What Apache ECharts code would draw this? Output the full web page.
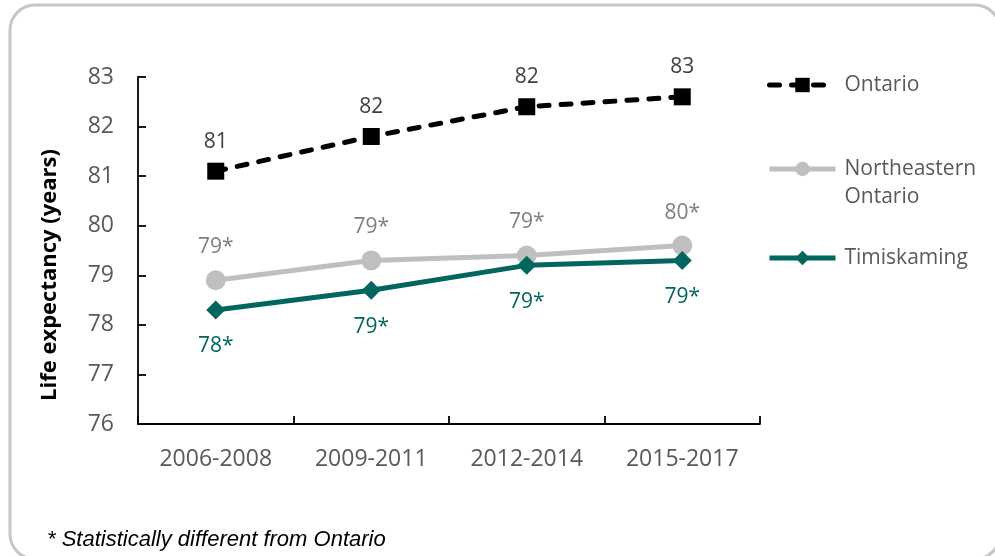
<!DOCTYPE html>
<html>
<head>
<meta charset="utf-8">
<script src="https://cdn.jsdelivr.net/npm/echarts@6/dist/echarts.min.js"></script>
<style>
  html, body { margin: 0; padding: 0; background: #ffffff; }
  #chart { width: 995px; height: 556px; }
</style>
</head>
<body>
<div id="chart"></div>
<script>
// Three-year periods on the x axis
const periods = ['2006-2008', '2009-2011', '2012-2014', '2015-2017'];

// Life expectancy at birth (years)
const ontario = [81.1, 81.8, 82.4, 82.6];
const northeastern = [78.9, 79.3, 79.4, 79.6];
const timiskaming = [78.3, 78.7, 79.2, 79.3];

// Value axis range
const yMin = 76;
const yMax = 83;
const yStep = 1;

const FONT = '"Open Sans", "Noto Sans", sans-serif';
const TEAL = '#00665E';
const GREY_LINE = '#BFBFBF';

const chart = echarts.init(document.getElementById('chart'), null, { renderer: 'canvas' });

const roundLabel = star => p => Math.round(p.value) + (star ? '*' : '');

const legendBase = {
  orient: 'vertical',
  left: 767,
  padding: 0,
  itemWidth: 66,
  itemHeight: 18,
  lineStyle: { width: 5 },
  textStyle: { fontFamily: FONT, fontSize: 21, color: '#595959', lineHeight: 28, padding: [0, 0, 0, 4] }
};

chart.setOption({
  backgroundColor: '#ffffff',
  animation: false,
  grid: { left: 138, right: 235, top: 77, bottom: 132 },
  xAxis: {
    type: 'category',
    data: periods,
    boundaryGap: true,
    axisLine: { lineStyle: { color: '#000000', width: 1.8 } },
    axisTick: { show: true, inside: true, length: 8, lineStyle: { color: '#000000', width: 1.8 } },
    axisLabel: { fontFamily: FONT, fontSize: 23, color: '#595959', margin: 24 },
    splitLine: { show: false }
  },
  yAxis: {
    type: 'value',
    min: yMin,
    max: yMax,
    interval: yStep,
    axisLine: { show: true, lineStyle: { color: '#000000', width: 1.8 } },
    axisTick: { show: true, inside: true, length: 8, lineStyle: { color: '#000000', width: 1.8 } },
    axisLabel: { fontFamily: FONT, fontSize: 23, color: '#595959', margin: 24 },
    splitLine: { show: false }
  },
  legend: [
    Object.assign({}, legendBase, { data: ['Ontario'], top: 71 }),
    Object.assign({}, legendBase, {
      data: ['Northeastern Ontario'],
      top: 127,
      // blank first line keeps the icon level with "Northeastern"
      formatter: () => ' \nNortheastern\nOntario'
    }),
    Object.assign({}, legendBase, { data: ['Timiskaming'], top: 244 })
  ],
  series: [
    {
      name: 'Ontario',
      type: 'line',
      data: ontario,
      symbol: 'rect',
      symbolSize: 17,
      itemStyle: { color: '#000000' },
      lineStyle: { color: '#000000', width: 5, type: [10, 12], cap: 'round' },
      label: {
        show: true, position: 'top', distance: 9,
        formatter: roundLabel(false),
        fontFamily: FONT, fontSize: 21, color: '#404040', lineHeight: 24
      },
      z: 3
    },
    {
      name: 'Northeastern Ontario',
      type: 'line',
      data: northeastern,
      symbol: 'circle',
      symbolSize: 20,
      itemStyle: { color: GREY_LINE },
      lineStyle: { color: GREY_LINE, width: 5 },
      label: {
        show: true, position: 'top', distance: 11,
        formatter: roundLabel(true),
        fontFamily: FONT, fontSize: 21, color: '#7F7F7F', lineHeight: 24
      },
      z: 2
    },
    {
      name: 'Timiskaming',
      type: 'line',
      data: timiskaming,
      symbol: 'diamond',
      symbolSize: 19,
      itemStyle: { color: TEAL },
      lineStyle: { color: TEAL, width: 5 },
      label: {
        show: true, position: 'bottom', distance: 15,
        formatter: roundLabel(true),
        fontFamily: FONT, fontSize: 21, color: TEAL, lineHeight: 24
      },
      z: 4
    }
  ],
  graphic: [
    {
      type: 'rect',
      shape: { x: 10, y: 5, width: 990, height: 554, r: 25 },
      style: { fill: 'none', stroke: '#C6C6C6', lineWidth: 3 },
      silent: true, z: -1
    },
    {
      type: 'text',
      x: 50, y: 275,
      rotation: Math.PI / 2,
      style: {
        text: 'Life expectancy (years)',
        fontFamily: FONT, fontSize: 22, fontWeight: 'bold', fill: '#000000',
        align: 'center', verticalAlign: 'middle'
      }
    },
    {
      type: 'text',
      x: 47, y: 540,
      style: {
        text: '* Statistically different from Ontario',
        fontFamily: '"Liberation Sans", Arial, sans-serif', fontSize: 22, fontStyle: 'italic',
        fill: '#000000', align: 'left', verticalAlign: 'middle'
      }
    }
  ]
});
</script>
</body>
</html>
